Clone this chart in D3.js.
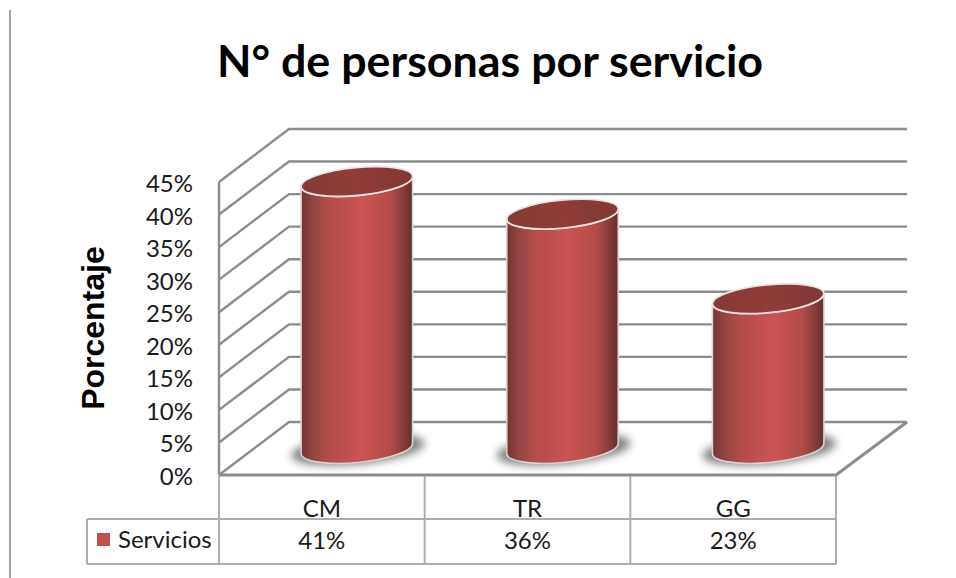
<!DOCTYPE html>
<html><head><meta charset="utf-8">
<script src="https://cdn.jsdelivr.net/npm/d3@7"></script>
<style>html,body{margin:0;padding:0;background:#fff;overflow:hidden}svg{display:block}</style>
</head><body><div id="c"></div>
<script>
const categories = ["CM","TR","GG"];
const values = [41,36,23];
const tickValues = [0,5,10,15,20,25,30,35,40,45];
const seriesName = "Servicios";
const titleText = "N° de personas por servicio";
const axisTitle = "Porcentaje";

const W=956,H=578;
const dx=70, dy=-53;
const svg=d3.select("#c").append("svg").attr("width",W).attr("height",H);
const y=d3.scaleLinear().domain([0,45]).range([475,182]);
const x=d3.scaleBand().domain(categories).range([219,836]);
const gridColor="#8c8c8c", tableColor="#adadad";

const defs=svg.append("defs");
const grad=defs.append("linearGradient").attr("id","body").attr("x1",0).attr("x2",1).attr("y1",0).attr("y2",0);
[[0,"#703533"],[0.1,"#914442"],[0.25,"#b24c4a"],[0.55,"#cb5553"],[0.8,"#b24c4a"],[0.92,"#853c3a"],[1,"#622e2d"]]
 .forEach(s=>grad.append("stop").attr("offset",s[0]).attr("stop-color",s[1]));
const tg=defs.append("linearGradient").attr("id","top").attr("x1",0).attr("x2",1).attr("y1",0).attr("y2",0);
[[0,"#853a37"],[0.5,"#903c39"],[1,"#803836"]].forEach(s=>tg.append("stop").attr("offset",s[0]).attr("stop-color",s[1]));
defs.append("filter").attr("id","blur").attr("x","-30%").attr("y","-60%").attr("width","160%").attr("height","220%")
 .append("feGaussianBlur").attr("stdDeviation",4);

svg.append("line").attr("x1",10).attr("x2",10).attr("y1",10).attr("y2",H).attr("stroke","#a6a6a6").attr("stroke-width",2);

svg.append("text").attr("x",490).attr("y",77).attr("text-anchor","middle")
 .attr("font-family","Lato, 'Open Sans', sans-serif").attr("font-weight",700).attr("font-size",44.8).attr("fill","#000").text(titleText);

const grid=svg.append("g").attr("fill","none").attr("stroke",gridColor).attr("stroke-width",2.4);
grid.selectAll("path.g").data(tickValues).join("path").attr("class","g")
 .attr("d",t=>`M219,${y(t)}L${219+dx},${y(t)+dy}L907,${y(t)+dy}`);
grid.append("line").attr("x1",219).attr("x2",219).attr("y1",y(45)).attr("y2",y(0));
grid.append("path").attr("d",`M907,${y(0)+dy}L836,${y(0)}L219,${y(0)}`).attr("stroke-width",3);

const rx=56, ry=14, rot=-5.5, rad=rot*Math.PI/180;
const ex=rx*Math.cos(rad), ey=rx*Math.sin(rad);
const baseY=d=>y(0)+dy/2;
const cx=c=>x(c)+x.bandwidth()/2+dx/2;
const data=categories.map((c,i)=>({c,v:values[i]}));
const g=svg.append("g");
g.selectAll("ellipse.shadow").data(data).join("ellipse").attr("class","shadow")
 .attr("cx",d=>cx(d.c)+1).attr("cy",baseY()+1).attr("rx",rx+11).attr("ry",ry+1)
 .attr("transform",d=>`rotate(${rot} ${cx(d.c)} ${baseY()})`)
 .attr("fill","#808080").attr("filter","url(#blur)");
const topY=d=>baseY()-(y(0)-y(d.v));
g.selectAll("path.body").data(data).join("path").attr("class","body")
 .attr("d",d=>{const X=cx(d.c),t=topY(d),b=baseY();
   return `M${X-ex},${t-ey}L${X-ex},${b-ey}A${rx},${ry} ${rot} 0 0 ${X+ex},${b+ey}L${X+ex},${t+ey}A${rx},${ry} ${rot} 0 1 ${X-ex},${t-ey}Z`;})
 .attr("fill","url(#body)").attr("stroke","#d9d4d4").attr("stroke-width",1.6);
g.selectAll("ellipse.top").data(data).join("ellipse").attr("class","top")
 .attr("cx",d=>cx(d.c)).attr("cy",d=>topY(d)).attr("rx",rx).attr("ry",ry)
 .attr("transform",d=>`rotate(${rot} ${cx(d.c)} ${topY(d)})`)
 .attr("fill","url(#top)").attr("stroke","#e9e4e3").attr("stroke-width",1.8);

const font="Lato, 'Open Sans', sans-serif";
svg.append("g").selectAll("text").data(tickValues).join("text")
 .attr("x",193).attr("y",t=>y(t)+10).attr("text-anchor","end").attr("font-family",font).attr("font-size",24).attr("fill","#1a1a1a")
 .text(t=>t+"%");

svg.append("text").attr("transform","translate(104,328) rotate(-90)").attr("text-anchor","middle")
 .attr("font-family","'Liberation Sans', Arial, sans-serif").attr("font-weight",700).attr("font-size",32).attr("fill","#000").text(axisTitle);

const table=svg.append("g").attr("stroke",tableColor).attr("stroke-width",2).attr("fill","none");
const cols=[...categories.map(c=>x(c)),x.range()[1]];
table.selectAll("line.v").data(cols).join("line").attr("class","v").attr("x1",d=>d).attr("x2",d=>d).attr("y1",476).attr("y2",564);
table.selectAll("line.h").data([519,564]).join("line").attr("class","h").attr("x1",87).attr("x2",836).attr("y1",d=>d).attr("y2",d=>d);
table.append("line").attr("x1",87).attr("x2",87).attr("y1",519).attr("y2",564);
const centre=c=>x(c)+x.bandwidth()/2;
svg.append("g").selectAll("text").data(categories).join("text")
 .attr("x",centre).attr("y",517).attr("text-anchor","middle").attr("font-family",font).attr("font-size",24).attr("fill","#1a1a1a").text(d=>d);
svg.append("g").selectAll("text").data(data).join("text")
 .attr("x",d=>centre(d.c)).attr("y",549).attr("text-anchor","middle").attr("font-family",font).attr("font-size",24).attr("fill","#1a1a1a").text(d=>d.v+"%");
svg.append("rect").attr("x",97).attr("y",533).attr("width",13).attr("height",13).attr("fill","#c0504d");
svg.append("text").attr("x",118).attr("y",548).attr("font-family",font).attr("font-size",24).attr("fill","#1a1a1a").text(seriesName);
</script></body></html>
